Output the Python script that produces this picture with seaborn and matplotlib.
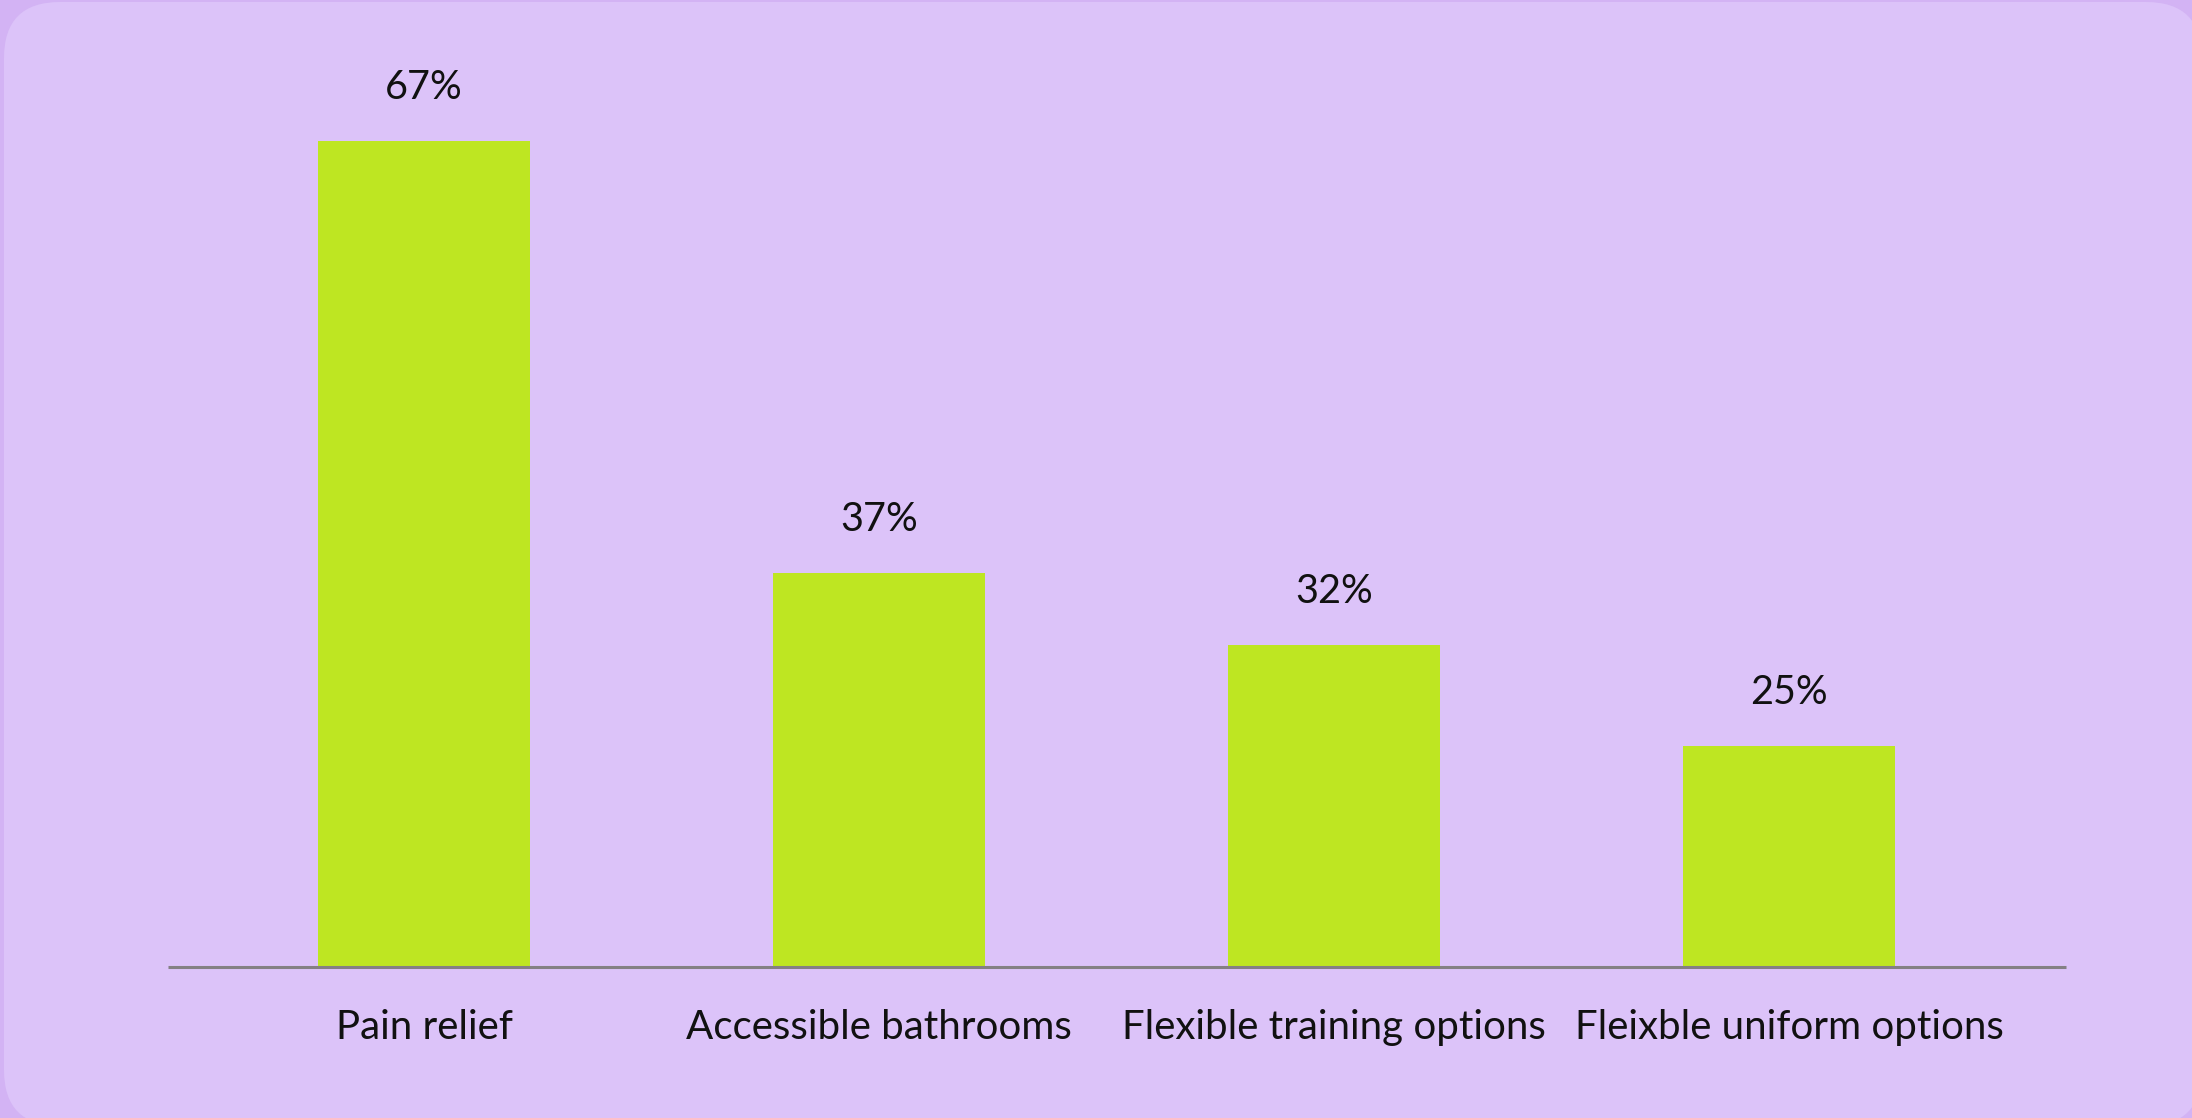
import matplotlib
matplotlib.use("Agg")
import matplotlib.pyplot as plt
from matplotlib.patches import FancyBboxPatch
import seaborn as sns
import pandas as pd

categories = ["Pain relief", "Accessible bathrooms", "Flexible training options", "Fleixble uniform options"]
values = [67, 37, 32, 25]
value_labels = ["67%", "37%", "32%", "25%"]

BAR_COLOR = "#bee622"
PANEL_COLOR = "#dcc3f9"
OUTER_COLOR = "#d3b3f4"
AXIS_COLOR = "#848084"

sns.set_theme(style="white")
plt.rcParams["font.family"] = ["Lato", "DejaVu Sans"]

W, H, DPI = 2192, 1118, 100
fig = plt.figure(figsize=(W / DPI, H / DPI), dpi=DPI, facecolor=OUTER_COLOR)

# rounded background panel (display pixels, origin bottom-left)
panel = FancyBboxPatch((4, -8), W + 6, H + 6,
                       boxstyle="round,pad=0,rounding_size=56",
                       transform=None, facecolor=PANEL_COLOR, edgecolor="none", zorder=-10)
fig.patches.append(panel)

ax_left, ax_right, ax_bottom = 168, 2066, 151
ax = fig.add_axes([ax_left / W, ax_bottom / H, (ax_right - ax_left) / W, (H - ax_bottom) / H])
ax.set_facecolor("none")

df = pd.DataFrame({"category": categories, "value": values})
sns.barplot(data=df, x="category", y="value", color=BAR_COLOR, saturation=1,
            width=0.466, linewidth=0, ax=ax)

ax.set_xlim(-0.563, 3.609)
y0, px_per_unit = 9.65, 14.41
ax.set_ylim(y0, y0 + (H - ax_bottom) / px_per_unit)

for patch, lab in zip(ax.patches, value_labels):
    ax.annotate(lab, (patch.get_x() + patch.get_width() / 2, patch.get_height()),
                xytext=(0, 25), textcoords="offset points",
                ha="center", va="bottom", fontsize=28.5, color="#111111")

ax.set_xlabel("")
ax.set_ylabel("")
ax.set_yticks([])
ax.tick_params(axis="x", length=0, pad=30, labelsize=29, labelcolor="#111111")
for side in ["top", "left", "right"]:
    ax.spines[side].set_visible(False)
ax.spines["bottom"].set_color(AXIS_COLOR)
ax.spines["bottom"].set_linewidth(2.2)
ax.spines["bottom"].set_capstyle("butt")

fig.savefig("out.png", dpi=DPI, facecolor=OUTER_COLOR)
